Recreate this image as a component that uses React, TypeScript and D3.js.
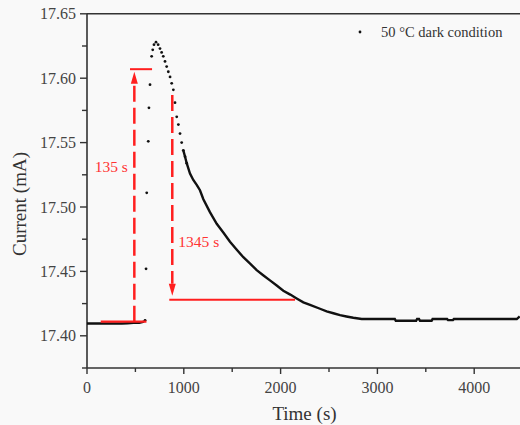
import React from 'react';
import * as d3 from 'd3';

// baseline before heating (s, mA)
const baseT = [0, 60, 120, 180, 240, 300, 360, 420, 480, 540, 590];
const baseV = [17.4095, 17.4095, 17.4095, 17.4095, 17.4095, 17.4095, 17.4095, 17.4097, 17.41, 17.41, 17.411];

// fast rise, sparse points
const riseT = [600, 610, 617, 633, 640, 651, 668, 679, 692];
const riseV = [17.412, 17.452, 17.511, 17.551, 17.577, 17.595, 17.617, 17.622, 17.626];

// peak and early decay, drawn as dots
const peakT = [713, 735, 754, 771, 788, 806, 823, 840, 858, 875, 892, 909, 927, 944, 961, 978, 995, 1013, 1030];
const peakV = [17.628, 17.626, 17.623, 17.62, 17.617, 17.613, 17.609, 17.605, 17.601, 17.596, 17.591, 17.581, 17.57, 17.564, 17.557, 17.55, 17.544, 17.539, 17.534];

// slow decay and plateau, dense enough to read as a line
const tailT = [995, 1013, 1030, 1064, 1098, 1135, 1167, 1202, 1270, 1340, 1410, 1477, 1545, 1615, 1685, 1753, 1820, 1890, 1960, 2028, 2100, 2166, 2235, 2304, 2407, 2476, 2545, 2614, 2680, 2751, 2838, 2950, 3100, 3180, 3190, 3300, 3400, 3410, 3430, 3440, 3560, 3570, 3720, 3730, 3780, 3790, 4000, 4200, 4440, 4470];
const tailV = [17.544, 17.539, 17.534, 17.526, 17.521, 17.517, 17.513, 17.506, 17.496, 17.487, 17.48, 17.473, 17.467, 17.461, 17.456, 17.451, 17.447, 17.443, 17.439, 17.435, 17.432, 17.429, 17.426, 17.424, 17.421, 17.419, 17.4175, 17.416, 17.415, 17.414, 17.413, 17.413, 17.413, 17.413, 17.4117, 17.4117, 17.4117, 17.413, 17.413, 17.4117, 17.4117, 17.413, 17.413, 17.4122, 17.4122, 17.413, 17.413, 17.413, 17.413, 17.415];

const yTicks = [17.4, 17.45, 17.5, 17.55, 17.6, 17.65];
const yMinor = [17.375, 17.425, 17.475, 17.525, 17.575, 17.625];
const xTicks = [0, 1000, 2000, 3000, 4000];
const xMinor = [500, 1500, 2500, 3500];

// annotations (data coords)
const baseBar = { t0: 142, t1: 614, v: 17.411 };
const topBar = { t0: 444, t1: 672, v: 17.607 };
const riseArrow = { t: 489, v0: 17.411, v1: 17.605, label: '135 s' };
const lowBar = { t0: 850, t1: 2149, v: 17.428 };
const fallArrow = { t: 881, v0: 17.587, v1: 17.431, label: '1345 s' };

const W = 520;
const H = 425;
const FONT = '"Liberation Serif", "Times New Roman", Times, serif';
const AXIS = '#333';
const RED = '#ff1f1f';

const x = d3.scaleLinear().domain([0, 4500]).range([87, 522.6]);
const y = d3.scaleLinear().domain([17.375, 17.65]).range([368, 13.8]);

const zip = (t: number[], v: number[]) => t.map((d, i) => [d, v[i]] as [number, number]);

const line = d3.line<[number, number]>()
  .x(d => x(d[0]))
  .y(d => y(d[1]));

const txt = { fontFamily: FONT };

const App = () => {
  const dots = [...zip(riseT, riseV), ...zip(peakT, peakV)];
  const headLen = 12;
  const headW = 3.5;

  const rx = x(riseArrow.t);
  const riseTip = y(riseArrow.v1);
  const fx = x(fallArrow.t);
  const fallTip = y(fallArrow.v1);

  return (
    <svg width={W} height={H} style={{ position: 'absolute', left: 0, top: 0 }}>
      <rect width={W} height={H} fill="#f9f9f9" />

      {/* frame */}
      <line x1={87} x2={W} y1={y(17.65)} y2={y(17.65)} stroke={AXIS} strokeWidth={1.6} />
      <line x1={87} x2={87} y1={y(17.65)} y2={368} stroke={AXIS} strokeWidth={1.6} />
      <line x1={87} x2={W} y1={368} y2={368} stroke={AXIS} strokeWidth={1.6} />

      {/* y ticks */}
      {yTicks.map(v => (
        <g key={v}>
          <line x1={80} x2={87} y1={y(v)} y2={y(v)} stroke={AXIS} strokeWidth={1.4} />
          <text x={76} y={y(v)} dy="0.35em" textAnchor="end" fontSize={16} fill="#444" style={txt}>
            {d3.format('.2f')(v)}
          </text>
        </g>
      ))}
      {yMinor.map(v => (
        <line key={v} x1={82} x2={87} y1={y(v)} y2={y(v)} stroke={AXIS} strokeWidth={1.4} />
      ))}

      {/* x ticks */}
      {xTicks.map(t => (
        <g key={t}>
          <line x1={x(t)} x2={x(t)} y1={368} y2={374} stroke={AXIS} strokeWidth={1.4} />
          <text x={x(t)} y={392.5} textAnchor="middle" fontSize={16} fill="#444" style={txt}>{t}</text>
        </g>
      ))}
      {xMinor.map(t => (
        <line key={t} x1={x(t)} x2={x(t)} y1={368} y2={372} stroke={AXIS} strokeWidth={1.4} />
      ))}

      <text x={304.5} y={420} textAnchor="middle" fontSize={19} fill="#333" style={txt}>Time (s)</text>
      <text transform="translate(25.5,204) rotate(-90)" textAnchor="middle" fontSize={19} fill="#333" style={txt}>
        Current (mA)
      </text>

      {/* data */}
      <path d={line(zip(baseT, baseV)) || ''} fill="none" stroke="#111" strokeWidth={2.4} />
      <path d={line(zip(tailT, tailV)) || ''} fill="none" stroke="#111" strokeWidth={2.4} />
      {dots.map((d, i) => (
        <circle key={i} cx={x(d[0])} cy={y(d[1])} r={1.4} fill="#111" />
      ))}

      {/* annotations */}
      <line x1={x(baseBar.t0)} x2={x(baseBar.t1)} y1={y(baseBar.v)} y2={y(baseBar.v)} stroke={RED} strokeWidth={2.2} />
      <line x1={x(topBar.t0)} x2={x(topBar.t1)} y1={y(topBar.v)} y2={y(topBar.v)} stroke={RED} strokeWidth={2} />
      <line x1={x(lowBar.t0)} x2={x(lowBar.t1)} y1={y(lowBar.v)} y2={y(lowBar.v)} stroke={RED} strokeWidth={2} />

      <line x1={rx} x2={rx} y1={y(riseArrow.v0)} y2={riseTip + headLen} stroke={RED} strokeWidth={2.5} strokeDasharray="16 6" />
      <path d={`M${rx},${riseTip}L${rx - headW},${riseTip + headLen}L${rx + headW},${riseTip + headLen}Z`} fill={RED} />
      <text x={rx - 6.5} y={171.5} textAnchor="end" fontSize={15.5} fill="#ff3333" style={txt}>{riseArrow.label}</text>

      <line x1={fx} x2={fx} y1={y(fallArrow.v0)} y2={fallTip - headLen} stroke={RED} strokeWidth={2.5} strokeDasharray="16 6" />
      <path d={`M${fx},${fallTip}L${fx - headW},${fallTip - headLen}L${fx + headW},${fallTip - headLen}Z`} fill={RED} />
      <text x={fx + 6} y={246.5} fontSize={15.5} fill="#ff3333" style={txt}>{fallArrow.label}</text>

      {/* legend */}
      <circle cx={360} cy={32} r={1.4} fill="#111" />
      <text x={381} y={37} fontSize={14.5} fill="#333" style={txt}>50 °C dark condition</text>
    </svg>
  );
};

export default App;
